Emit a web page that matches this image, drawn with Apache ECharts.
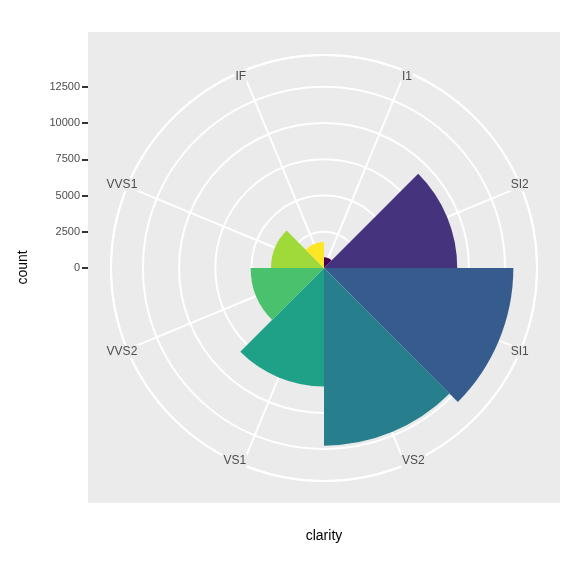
<!DOCTYPE html>
<html>
<head>
<meta charset="utf-8">
<script src="https://cdn.jsdelivr.net/npm/echarts@6/dist/echarts.min.js"></script>
<style>
  html, body { margin: 0; padding: 0; background: #fff; }
  #chart { width: 576px; height: 576px; }
</style>
</head>
<body>
<div id="chart"></div>
<script>
// diamonds: bar count by clarity, drawn in polar coords
var clarity = ['I1', 'SI2', 'SI1', 'VS2', 'VS1', 'VVS2', 'VVS1', 'IF'];
var counts = [741, 9194, 13065, 12258, 8171, 5066, 3655, 1790];
var colours = ['#440154', '#46337E', '#365C8D', '#277F8E', '#1FA187', '#4AC16D', '#9FDA3A', '#FDE725'];
var countTicks = [0, 2500, 5000, 7500, 10000, 12500];

var C = [324, 268];
var R = 213;
// outer circle sits at 0.45 while the data max sits at 0.4
var rMax = Math.max.apply(null, counts) * 0.45 / 0.4;
var grey = '#4D4D4D';
var panel = '#EBEBEB';
var white = { color: '#fff', width: 2 };
var off = { show: false };

var chart = echarts.init(document.getElementById('chart'));

chart.setOption({
  animation: false,
  grid: [
    { left: 88, top: 32, width: 472, height: 471, show: true,
      backgroundColor: panel, borderWidth: 0, z: -1 },
    { left: 88, top: 87, width: 472, height: 181 }
  ],
  xAxis: [
    { gridIndex: 0, type: 'value', name: 'clarity', nameLocation: 'middle', nameGap: 26,
      nameTextStyle: { color: '#000', fontSize: 14, fontFamily: 'Liberation Sans' },
      axisLine: off, axisTick: off, axisLabel: off, splitLine: off },
    { gridIndex: 1, type: 'value', show: false }
  ],
  yAxis: [
    { gridIndex: 0, type: 'value', name: 'count', nameLocation: 'middle', nameGap: 58,
      nameTextStyle: { color: '#000', fontSize: 14, fontFamily: 'Liberation Sans' },
      axisLine: off, axisTick: off, axisLabel: off, splitLine: off },
    { gridIndex: 1, type: 'value', min: countTicks[0], max: countTicks[countTicks.length - 1],
      interval: countTicks[1] - countTicks[0],
      axisLine: off,
      axisTick: { show: true, length: 6, lineStyle: { color: '#333', width: 2 } },
      axisLabel: { color: grey, fontSize: 11, margin: 8, fontFamily: 'Liberation Sans',
        formatter: function (v) { return String(v); } },
      splitLine: off }
  ],
  polar: [
    { center: C, radius: 203 },   // spokes, stop at the labels
    { center: C, radius: R },     // outer circle
    { center: C, radius: R }      // bars, radial grid, theta labels
  ],
  angleAxis: [
    { polarIndex: 0, type: 'value', min: 0, max: 360, interval: 45,
      startAngle: 90 - 22.5, clockwise: true,
      axisLine: off, axisTick: off, axisLabel: off,
      splitLine: { show: true, lineStyle: white } },
    { polarIndex: 1, type: 'value', min: 0, max: 360, startAngle: 90,
      axisLine: { show: true, lineStyle: white },
      axisTick: off, axisLabel: off, splitLine: off },
    { polarIndex: 2, type: 'category', data: clarity, startAngle: 90, clockwise: true,
      zlevel: 1, z: 10,
      axisLine: off, axisTick: off, splitLine: off,
      axisLabel: { margin: -12,
        formatter: function (v) { return '{t|' + v + '}'; },
        rich: { t: { color: grey, fontSize: 12, fontFamily: 'Liberation Sans',
          backgroundColor: panel, padding: [1, 1, 0, 1] } } } }
  ],
  radiusAxis: [
    { polarIndex: 0, type: 'value', min: 0, max: rMax,
      axisLine: off, axisTick: off, axisLabel: off, splitLine: off },
    { polarIndex: 1, type: 'value', min: 0, max: rMax,
      axisLine: off, axisTick: off, axisLabel: off, splitLine: off },
    { polarIndex: 2, type: 'value', min: 0, max: rMax, interval: 2500,
      axisLine: off, axisTick: off, axisLabel: off,
      splitLine: { show: true, lineStyle: white } }
  ],
  series: [{
    type: 'bar',
    coordinateSystem: 'polar',
    polarIndex: 2,
    barCategoryGap: '0%',
    data: counts.map(function (v, i) {
      return { value: v, itemStyle: { color: colours[i] } };
    })
  }]
});
</script>
</body>
</html>
